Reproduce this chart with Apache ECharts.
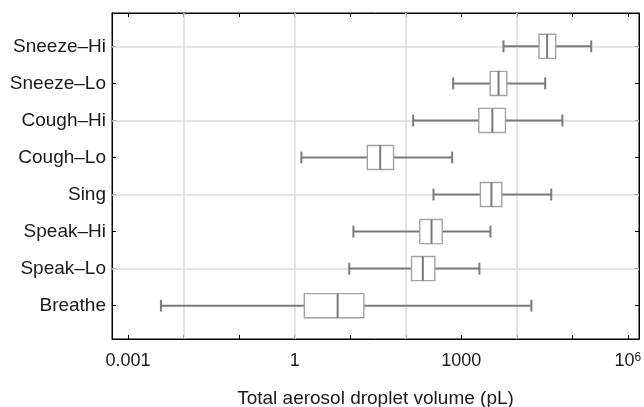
<!DOCTYPE html>
<html><head><meta charset="utf-8">
<script src="https://cdn.jsdelivr.net/npm/echarts@6/dist/echarts.min.js"></script>
<style>html,body{margin:0;padding:0;background:#fff}#c{width:644px;height:407px}</style>
</head><body><div id="c"></div>
<script>
const categories = ['Sneeze–Hi','Sneeze–Lo','Cough–Hi','Cough–Lo','Sing','Speak–Hi','Speak–Lo','Breathe'];
const whiskerLow  = [5750, 714, 136, 1.32, 316, 11.4, 9.6, 0.0039];
const q1          = [25100, 3310, 2070, 20.3, 2210, 179, 127, 1.49];
const median      = [35100, 4680, 3630, 34.7, 3490, 291, 203, 5.93];
const q3          = [50100, 6610, 6240, 60.3, 5370, 453, 334, 17.6];
const whiskerHigh = [219000, 32400, 66100, 686, 41700, 3350, 2120, 18300];
const xTickLabels = {'-3': '0.001', '0': '1', '3': '1000', '6': '10^6'};
const xGridValues = [0.01, 1, 100, 10000];
const yGridIndices = [0, 2, 4, 6];

const X_MIN = Math.pow(10, -3.29), X_MAX = Math.pow(10, 6.2);
const Y_MIN = -0.9, Y_MAX = 7.9;
const FONT = '"Liberation Sans", Arial, sans-serif';
const BOX_STROKE = '#a3a3a3', LINE = '#7a7a7a', GRID = '#dcdcdc';

const boxData = categories.map((c, i) => [i, whiskerLow[i], q1[i], median[i], q3[i], whiskerHigh[i]]);

function xLabel(v) {
  const e = Math.log10(v), r = Math.round(e);
  if (Math.abs(e - r) > 1e-6) return '';
  const s = xTickLabels[String(r)];
  if (!s) return '';
  if (s.indexOf('^') >= 0) { const p = s.split('^'); return '{b|' + p[0] + '}{s|' + p[1] + '}'; }
  return s;
}
function yLabel(v) {
  const r = Math.round(v);
  if (Math.abs(v - r) > 1e-6 || r < 0 || r >= categories.length) return '';
  return categories[r];
}

function renderItem(params, api) {
  const y = api.value(0);
  const pLo = api.coord([api.value(1), y]);
  const pQ1 = api.coord([api.value(2), y]);
  const pMed = api.coord([api.value(3), y]);
  const pQ3 = api.coord([api.value(4), y]);
  const pHi = api.coord([api.value(5), y]);
  const top = api.coord([api.value(3), y - 0.325])[1];
  const bot = api.coord([api.value(3), y + 0.325])[1];
  const cTop = api.coord([api.value(3), y - 0.16])[1];
  const cBot = api.coord([api.value(3), y + 0.16])[1];
  const yy = pMed[1];
  const ls = {stroke: LINE, lineWidth: 2};
  return {type: 'group', children: [
    {type: 'line', shape: {x1: pLo[0], y1: yy, x2: pQ1[0], y2: yy}, style: ls},
    {type: 'line', shape: {x1: pQ3[0], y1: yy, x2: pHi[0], y2: yy}, style: ls},
    {type: 'line', shape: {x1: pLo[0], y1: cTop, x2: pLo[0], y2: cBot}, style: ls},
    {type: 'line', shape: {x1: pHi[0], y1: cTop, x2: pHi[0], y2: cBot}, style: ls},
    {type: 'rect', shape: {x: pQ1[0], y: Math.min(top, bot), width: pQ3[0] - pQ1[0], height: Math.abs(bot - top)},
      style: {fill: '#fff', stroke: BOX_STROKE, lineWidth: 1.4}},
    {type: 'line', shape: {x1: pMed[0], y1: Math.min(top, bot), x2: pMed[0], y2: Math.max(top, bot)}, style: ls}
  ]};
}

const chart = echarts.init(document.getElementById('c'), null, {renderer: 'canvas'});
const tick = {show: true, inside: true, length: 4, lineStyle: {color: '#000', width: 1}};
const axLine = {show: true, onZero: false, lineStyle: {color: '#000', width: 1}};
chart.setOption({
  animation: false,
  backgroundColor: '#fff',
  textStyle: {fontFamily: FONT},
  grid: {left: 112, right: 5, top: 13, bottom: 68, containLabel: false, outerBoundsMode: 'none',
    show: true, borderColor: '#000', borderWidth: 1, backgroundColor: 'transparent'},
  xAxis: [
    {type: 'log', logBase: 10, min: X_MIN, max: X_MAX, position: 'bottom',
      name: 'Total aerosol droplet volume (pL)', nameLocation: 'middle', nameGap: 50,
      nameTextStyle: {fontSize: 19, color: '#1a1a1a', fontFamily: FONT},
      axisLine: axLine,
      axisTick: tick, minorTick: {show: false}, splitLine: {show: false},
      axisLabel: {formatter: xLabel, fontSize: 18, color: '#1a1a1a', margin: 13, fontFamily: FONT,
        showMinLabel: true, showMaxLabel: true, hideOverlap: false,
        rich: {b: {fontSize: 18, color: '#1a1a1a', fontFamily: FONT, verticalAlign: 'bottom'},
               s: {fontSize: 12, color: '#1a1a1a', fontFamily: FONT, verticalAlign: 'top'}}}},
    {type: 'log', logBase: 10, min: X_MIN, max: X_MAX, position: 'top',
      axisLine: axLine,
      axisTick: tick, axisLabel: {show: false}, splitLine: {show: false}}
  ],
  yAxis: [
    {type: 'value', min: Y_MIN, max: Y_MAX, inverse: true, splitNumber: 8, position: 'left',
      axisLine: axLine,
      axisTick: tick, splitLine: {show: false},
      axisLabel: {formatter: yLabel, fontSize: 19, color: '#1a1a1a', margin: 6, fontFamily: FONT, hideOverlap: false}},
    {type: 'value', min: Y_MIN, max: Y_MAX, inverse: true, splitNumber: 8, position: 'right',
      axisLine: axLine,
      axisTick: tick, splitLine: {show: false}, axisLabel: {show: false}}
  ],
  series: [
    {type: 'line', xAxisIndex: 0, yAxisIndex: 0, data: [], z: 1, silent: true,
      markLine: {silent: true, symbol: ['none', 'none'], label: {show: false}, animation: false,
        lineStyle: {color: GRID, width: 1.5, type: 'solid'},
        data: xGridValues.map(v => ({xAxis: v})).concat(yGridIndices.map(v => ({yAxis: v})))}},
    {type: 'custom', xAxisIndex: 0, yAxisIndex: 0, z: 5, renderItem: renderItem,
      encode: {x: [1, 2, 3, 4, 5], y: 0}, data: boxData}
  ]
});
</script></body></html>
